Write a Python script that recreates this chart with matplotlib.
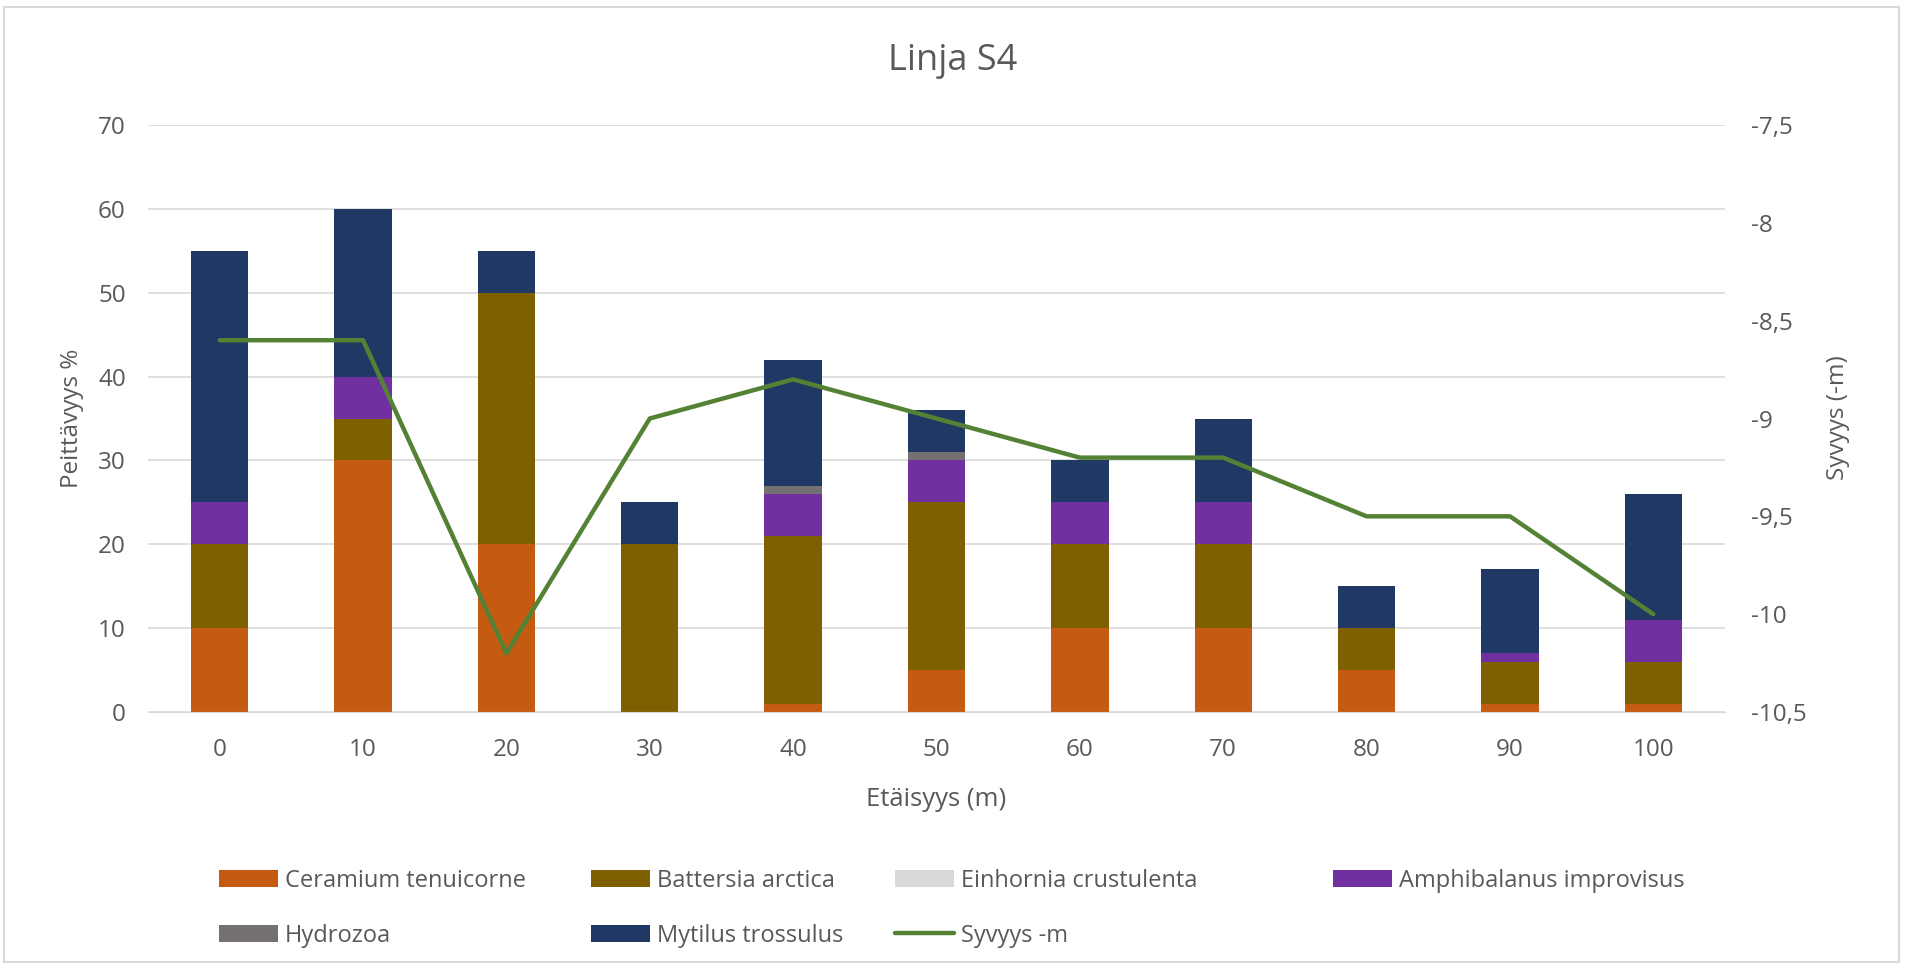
import numpy as np
import matplotlib.pyplot as plt
from matplotlib.patches import Rectangle

plt.rcParams['font.family'] = ['Open Sans', 'DejaVu Sans']

# Data
distance = [0, 10, 20, 30, 40, 50, 60, 70, 80, 90, 100]
ceramium = [10, 30, 20, 0, 1, 5, 10, 10, 5, 1, 1]
battersia = [10, 5, 30, 20, 20, 20, 10, 10, 5, 5, 5]
einhornia = [0, 0, 0, 0, 0, 0, 0, 0, 0, 0, 0]
amphibalanus = [5, 5, 0, 0, 5, 5, 5, 5, 0, 1, 5]
hydrozoa = [0, 0, 0, 0, 1, 1, 0, 0, 0, 0, 0]
mytilus = [30, 20, 5, 5, 15, 5, 5, 10, 5, 10, 15]
depth = [-8.6, -8.6, -10.2, -9.0, -8.8, -9.0, -9.2, -9.2, -9.5, -9.5, -10.0]

series = [
    ("Ceramium tenuicorne", ceramium, "#C55A11"),
    ("Battersia arctica", battersia, "#7F6000"),
    ("Einhornia crustulenta", einhornia, "#D9D9D9"),
    ("Amphibalanus improvisus", amphibalanus, "#7030A0"),
    ("Hydrozoa", hydrozoa, "#767171"),
    ("Mytilus trossulus", mytilus, "#203864"),
]

txt = "#595959"
W, H = 1905, 968
fig = plt.figure(figsize=(W / 100, H / 100), dpi=100)
ax = fig.add_axes([148 / W, 1 - 712 / H, (1725 - 148) / W, (712 - 125) / H])
ax2 = ax.twinx()

x = np.arange(len(distance))
bottom = np.zeros(len(distance))
handles = {}
for name, vals, col in series:
    b = ax.bar(x, vals, 0.4, bottom=bottom, color=col, label=name, zorder=2)
    handles[name] = b
    bottom += np.array(vals)

ln, = ax2.plot(x, depth, color="#548235", lw=3.2, label="Syvyys -m", solid_capstyle="round")
handles["Syvyys -m"] = ln

ax.set_xlim(-0.5, len(distance) - 0.5)
ax.set_ylim(0, 70)
ax.set_yticks(range(0, 71, 10))
ax2.set_ylim(-10.5, -7.5)
rticks = np.arange(-10.5, -7.49, 0.5)
ax2.set_yticks(rticks)
ax2.set_yticklabels([("%g" % v).replace(".", ",") for v in rticks])
ax.set_xticks(x)
ax.set_xticklabels([str(d) for d in distance])

ax.grid(axis="y", color="#D9D9D9", lw=1.2, zorder=0)
ax.set_axisbelow(True)
for a in (ax, ax2):
    for s in a.spines.values():
        s.set_visible(False)
    a.tick_params(length=0, labelsize=17.5, colors=txt)
ax.tick_params(axis="y", pad=16)
ax.tick_params(axis="x", pad=19)
ax2.tick_params(axis="y", pad=19)
ax.spines["bottom"].set_visible(True)
ax.spines["bottom"].set_color("#D9D9D9")

fig.text(0.5 * (148 + 1725) / W, 1 - 799 / H, "Etäisyys (m)", ha="center", va="center",
         fontsize=18.5, color=txt)
fig.text(72 / W, 1 - 418 / H, "Peittävyys %", ha="center", va="center", rotation=90,
         fontsize=17.5, color=txt)
fig.text(1838 / W, 1 - 418 / H, "Syvyys (-m)", ha="center", va="center", rotation=90,
         fontsize=17.5, color=txt)
fig.text(0.5, 1 - 61 / H, "Linja S4", ha="center", va="center", fontsize=26, color=txt)

# legend columns placed like the original (row-wise order)
columns = [["Ceramium tenuicorne", "Hydrozoa"],
           ["Battersia arctica", "Mytilus trossulus"],
           ["Einhornia crustulenta", "Syvyys -m"],
           ["Amphibalanus improvisus"]]
col_x = [219, 591, 895, 1333]
for names, cx in zip(columns, col_x):
    leg = fig.legend([handles[n] for n in names], names, loc="upper left",
                     bbox_to_anchor=(cx / W, 1 - 869 / H), bbox_transform=fig.transFigure,
                     frameon=False, fontsize=17, labelcolor=txt, handlelength=2.5,
                     handleheight=0.7, handletextpad=0.3, labelspacing=1.3,
                     borderaxespad=0, borderpad=0)

fig.patches.append(Rectangle((4 / W, 6 / H), (W - 10) / W, (H - 13) / H, transform=fig.transFigure,
                             fill=False, edgecolor="#D9D9D9", lw=1.5))

fig.savefig("out.png", dpi=100)
